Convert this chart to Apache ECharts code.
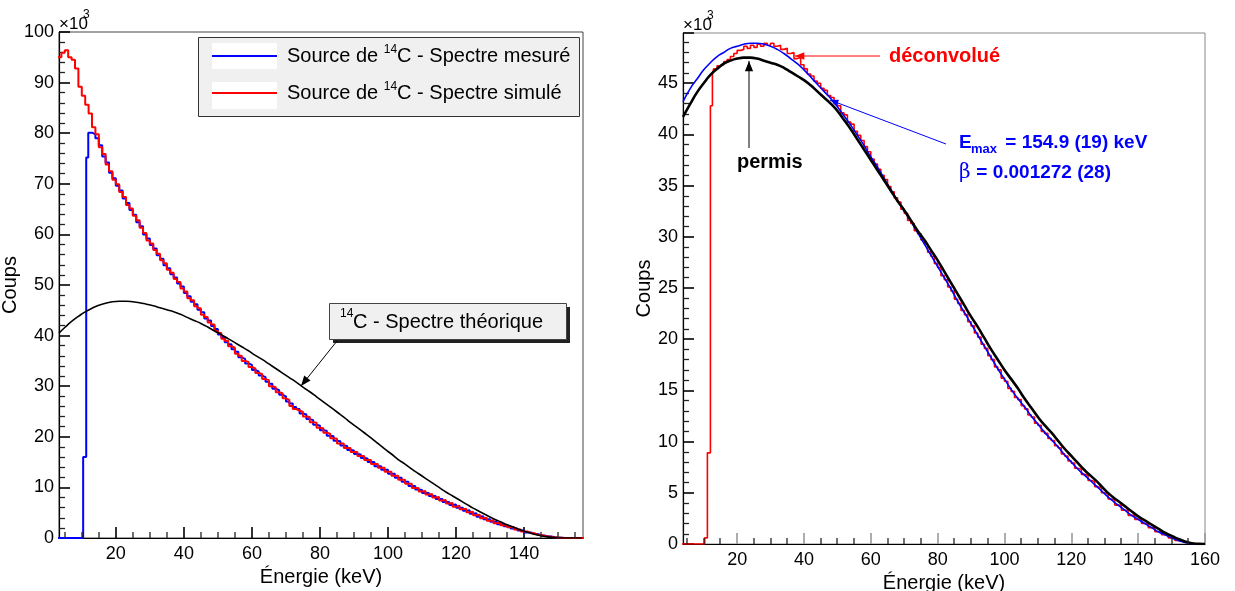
<!DOCTYPE html>
<html><head><meta charset="utf-8">
<script src="https://cdn.jsdelivr.net/npm/echarts@6/dist/echarts.min.js"></script>
<style>html,body{margin:0;padding:0;background:#fff}#c{width:1235px;height:591px}</style>
</head><body><div id="c"></div><script>
// ---------- DATA (counts in units of 10^3) ----------
// Left panel: 1-keV bins, first bin edge 3 keV
const leftSimStart = 3;
const leftSimCounts = [95.0,95.9,96.4,95.0,94.5,92.8,89.2,87.4,85.6,83.9,81.2,79.8,77.2,75.9,73.8,72.5,70.8,69.9,68.4,67.4,
65.8,65.1,63.7,62.8,61.3,60.3,58.8,58.2,56.9,56.2,54.9,54.3,53.0,52.4,51.2,50.6,49.3,48.7,47.4,47.0,
45.8,45.4,44.1,43.7,42.6,42.2,40.9,40.5,39.4,39.0,37.9,37.6,36.4,36.0,35.0,34.8,33.8,33.5,32.6,32.4,
31.4,31.2,30.0,29.8,28.8,28.6,27.6,27.3,26.1,25.5,25.2,24.9,24.0,23.9,22.9,22.8,21.8,21.7,20.8,20.6,
19.7,19.6,18.7,18.7,17.8,17.8,17.0,17.0,16.2,16.2,15.4,15.4,14.6,14.6,13.9,13.9,13.1,13.1,12.3,12.3,
11.5,11.5,10.7,10.7,9.9,9.9,9.2,9.3,8.6,8.7,8.0,8.1,7.4,7.5,6.8,6.9,6.2,6.4,5.7,5.8,
5.1,5.2,4.5,4.6,3.9,4.0,3.4,3.5,2.9,3.0,2.5,2.5,2.1,2.1,1.7,1.7,1.3,1.3,0.95,0.95,
0.65,0.6,0.4,0.35,0.2,0.15,0.05,0.03,0,0,0,0,0,0,0];
const leftMesLowEdges = [3, 10.4, 11.3, 11.9];
const leftMesLowCounts = [0, 16.0, 75.2, 80.1];
const leftMesStart = 13;
const leftMesCounts = [79.8,79.0,77.6,75.4,74.2,72.2,71.1,69.6,68.7,67.1,66.2,64.8,63.9,62.4,61.6,60.0,59.2,57.9,57.2,55.9,
55.2,53.9,53.3,52.1,51.5,50.3,49.7,48.4,47.8,46.7,46.2,45.1,44.6,43.4,43.0,41.9,41.3,40.2,39.7,38.7,
38.3,37.3,36.8,35.7,35.4,34.5,34.2,33.2,32.9,32.1,31.8,30.9,30.5,29.5,29.2,28.3,28.0,27.0,26.6,25.9,
25.5,24.6,24.4,23.5,23.3,22.4,22.2,21.3,21.2,20.2,20.1,19.2,19.1,18.3,18.2,17.4,17.3,16.6,16.5,15.8,
15.7,15.0,15.0,14.2,14.2,13.5,13.5,12.7,12.7,11.9,11.9,11.1,11.1,10.3,10.3,9.6,9.5,8.9,8.9,8.3,
8.3,7.7,7.7,7.1,7.1,6.5,6.6,6.0,6.0,5.4,5.5,4.8,4.9,4.2,4.3,3.7,3.7,3.2,3.2,2.7,
2.7,2.3,2.3,1.9,1.9,1.5,1.5,1.1,1.1,0.8,0.8,0.5,0.5,0.3,0.3,0.15,0.1,0.05,0,0,
0,0,0,0,0];
const leftTheoE = [3.3,5,7,9,11,13,15,17,19,21,23,25,27,29,31,33,35,37,39,41,43,45,47,49,51,53,55,57,59,61,63,65,67,69,71,73,75,77,79,81,
83,85,87,89,91,93,95,97,99,101,103,105,107,109,111,113,115,117,119,121,123,125,127,129,131,133,135,137,139,141,143,145,147,149,151,153,155,157];
const leftTheoV = [40.5,41.6,42.8,43.8,44.7,45.4,46.0,46.4,46.7,46.8,46.8,46.7,46.5,46.2,45.9,45.5,45.1,44.7,44.2,43.6,
43.0,42.4,41.7,40.9,40.2,39.4,38.6,37.8,37.0,36.1,35.3,34.4,33.5,32.6,31.7,30.8,29.8,28.9,27.9,26.9,
25.9,24.9,23.9,22.8,21.8,20.8,19.8,18.7,17.6,16.6,15.5,14.6,13.6,12.7,11.8,10.9,10.0,9.1,8.3,7.5,
6.7,5.9,5.2,4.5,3.8,3.2,2.6,2.1,1.6,1.15,0.75,0.45,0.22,0.08,0.01,0,0,0];
// Right panel
const rightDecLowEdges = [3, 10.3, 11.1, 12.0, 12.6];
const rightDecLowCounts = [0, 0.6, 8.9, 42.8, 46.0];
const rightDecStart = 13;
const rightDecCounts = [46.4,46.7,46.8,47.1,47.3,47.6,47.9,48.2,48.3,48.6,48.4,48.7,48.5,48.8,48.6,48.9,48.7,48.9,48.6,48.7,
48.3,48.4,47.9,48.0,47.4,47.5,46.8,
46.4,45.9,45.7,45.2,45.0,44.5,44.3,43.8,43.6,43.0,42.8,42.1,41.9,41.2,41.0,40.3,39.9,39.4,38.8,38.3,
37.6,37.1,36.6,36.0,35.6,34.9,34.4,33.8,33.4,32.7,32.3,31.6,31.3,30.6,30.3,29.7,29.3,28.5,28.1,27.4,
27.0,26.2,25.8,25.1,24.7,23.9,23.5,22.8,22.4,21.7,21.3,20.6,20.2,19.5,19.1,18.4,18.0,17.3,17.0,16.2,
15.9,15.2,14.9,14.3,14.1,13.5,13.2,12.6,12.4,11.8,11.6,11.0,10.8,10.3,10.1,9.6,9.4,8.8,8.6,8.1,
7.9,7.4,7.3,6.8,6.7,6.2,6.1,5.6,5.5,5.0,4.9,4.4,4.3,3.8,3.8,3.3,3.3,2.8,2.8,2.4,
2.4,2.0,2.0,1.6,1.6,1.2,1.2,0.9,0.85,0.6,0.55,0.35,0.32,0.18,0.15,0.05,0.04,0,0,0];
const rightCurveE = [3.8,6,8,10,12,14,16,18,20,22,24,26,28,30,32,34,36,38,40,42,44,46,48,50,52,54,56,58,60,62,64,66,68,70,72,74,76,78,80,82,
84,86,88,90,92,94,96,98,100,102,104,106,108,110,112,114,116,118,120,122,124,126,128,130,132,134,136,138,140,142,144,146,148,150,152,154,156,158,160];
const rightFitV = [43.2,44.5,45.4,46.3,47.0,47.6,48.0,48.4,48.6,48.8,48.9,48.9,48.8,48.6,48.3,47.9,47.4,46.9,46.3,45.6,
44.9,44.2,43.5,42.7,41.8,40.9,39.9,38.9,37.8,36.8,35.7,34.6,33.5,32.5,31.5,30.4,29.3,28.2,27.1,26.0,
24.9,23.7,22.6,21.5,20.4,19.3,18.2,17.1,16.1,15.1,14.2,13.4,12.5,11.7,10.9,10.2,9.5,8.7,8.0,7.3,
6.7,6.1,5.5,4.9,4.3,3.8,3.3,2.8,2.4,2.0,1.6,1.2,0.9,0.6,0.35,0.15,0.03,0,0];
const rightPermV = [41.7,43.0,44.1,45.0,45.8,46.4,46.9,47.2,47.4,47.5,47.5,47.4,47.2,47.0,46.8,46.5,46.1,45.7,45.3,44.8,
44.2,43.6,43.0,42.3,41.4,40.5,39.5,38.5,37.5,36.5,35.5,34.5,33.5,32.6,31.6,30.6,29.7,28.7,27.7,26.6,
25.5,24.4,23.3,22.2,21.2,20.1,19.0,18.0,17.0,16.1,15.2,14.2,13.3,12.4,11.6,10.9,10.1,9.3,8.6,7.9,
7.2,6.6,6.0,5.3,4.7,4.2,3.7,3.2,2.7,2.3,1.9,1.5,1.1,0.8,0.5,0.25,0.08,0.01,0];
// Axis tick values
const leftXLabels = [20,40,60,80,100,120,140];
const rightXLabels = [20,40,60,80,100,120,140,160];
const xMinorStep = 5;
const leftYMajor = 10;
const rightYMajor = 5;
const nameMes = 'Source de 14C - Spectre mesuré';
const nameSim = 'Source de 14C - Spectre simulé';

// ---------- BUILD ----------
const FONT = '"Liberation Sans", Arial, Helvetica, sans-serif';
const L = { xmin: 3.3, xmax: 157.3, ymax: 100 };
const R = { xmin: 3.8, xmax: 160, ymax: 49.9 };
const TICKW = 1.6;
function hist(lowEdges, lowCounts, start, counts) {
  const d = [];
  lowEdges.forEach((e, i) => d.push([e, lowCounts[i]]));
  counts.forEach((v, i) => d.push([start + i, v]));
  d.push([start + counts.length, counts[counts.length - 1]]);
  return d;
}
function pairs(xs, ys) { return xs.map((x, i) => [x, ys[i]]); }

function mainX(g, min, max, labels, majorColor) {
  return {
    type: 'value', gridIndex: g, min: min, max: max, position: 'bottom',
    name: 'Énergie (keV)', nameLocation: 'middle', nameGap: 29,
    nameTextStyle: { fontFamily: FONT, fontSize: 20, color: '#000' },
    axisLine: { show: true, onZero: false, lineStyle: { color: '#000', width: 1.2 } },
    axisTick: { show: true, inside: true, length: 11, customValues: labels, lineStyle: { color: majorColor, width: TICKW } },
    axisLabel: { show: true, customValues: labels, margin: 7, fontFamily: FONT, fontSize: 18, color: '#000' },
    splitLine: { show: false }
  };
}
function yAx(g, max, interval, gap) {
  return {
    type: 'value', gridIndex: g, min: 0, max: max, interval: interval,
    name: 'Coups', nameLocation: 'middle', nameGap: gap,
    nameTextStyle: { fontFamily: FONT, fontSize: 20, color: '#000' },
    axisLine: { show: true, onZero: false, lineStyle: { color: '#000', width: 1.2 } },
    axisTick: { show: true, inside: true, length: 11, lineStyle: { color: '#000', width: TICKW } },
    minorTick: { show: true, splitNumber: 5, length: 6, lineStyle: { color: '#222', width: 1.3 } },
    axisLabel: { margin: 5, fontFamily: FONT, fontSize: 18, color: '#000', showMaxLabel: max === 100 },
    splitLine: { show: false }
  };
}

// minor tick marks on the energy axes (every 5 keV, not on labelled values)
function xMinorData(min, max, majors) {
  const d = [];
  for (let v = xMinorStep; v <= max + 1e-9; v += xMinorStep) if (v > min && majors.indexOf(v) < 0) d.push([v, 0]);
  return d;
}
function xMinorSeries(g, data) {
  return {
    type: 'custom', xAxisIndex: g, yAxisIndex: g, silent: true, z: 10, clip: false, data: data,
    renderItem: function (params, api) {
      const p = api.coord([api.value(0), 0]);
      const x = Math.round(p[0]), y = Math.round(p[1]);
      return { type: 'line', shape: { x1: x, y1: y, x2: x, y2: y - 6 }, style: { stroke: '#222', lineWidth: 1.3 } };
    }
  };
}

function arrow(x1, y1, x2, y2, color, head, w) {
  const ang = Math.atan2(y2 - y1, x2 - x1), a = 0.38;
  const p1 = [x2 - head * Math.cos(ang - a), y2 - head * Math.sin(ang - a)];
  const p2 = [x2 - head * Math.cos(ang + a), y2 - head * Math.sin(ang + a)];
  return [
    { type: 'line', z: 100, shape: { x1: x1, y1: y1, x2: x2, y2: y2 }, style: { stroke: color, lineWidth: w } },
    { type: 'polygon', z: 100, shape: { points: [[x2, y2], p1, p2] }, style: { fill: color } }
  ];
}
function txt(x, y, s, size, color, weight, va, family) {
  return { type: 'text', z: 100, x: x, y: y,
    style: { text: s, fontSize: size, fill: color, fontWeight: weight || 'normal', fontFamily: family || FONT,
      verticalAlign: va || 'middle', align: 'left' } };
}

const graphics = [].concat(
  [{ type: 'rect', z: 1, shape: { x: 198.5, y: 37.5, width: 381, height: 79 }, style: { fill: '#f0f0f0', stroke: '#333', lineWidth: 1 } },
   { type: 'rect', z: 1, shape: { x: 212, y: 43, width: 65, height: 26 }, style: { fill: '#fff' } },
   { type: 'rect', z: 1, shape: { x: 212, y: 82, width: 65, height: 27 }, style: { fill: '#fff' } }],
  [txt(59, 24, '×10', 17, '#000'), txt(83, 15, '3', 12, '#000'),
   txt(683, 25, '×10', 17, '#000'), txt(707, 16, '3', 12, '#000')],
  [{ type: 'rect', z: 99, shape: { x: 333, y: 307, width: 237, height: 36 }, style: { fill: '#222' } },
   { type: 'rect', z: 99, shape: { x: 329.5, y: 303.5, width: 237, height: 36 }, style: { fill: '#f0f0f0', stroke: '#444', lineWidth: 1 } },
   txt(340, 314, '14', 12, '#000'), txt(353, 322, 'C - Spectre théorique', 20, '#000')],
  arrow(337, 341, 301, 386, '#000', 11, 1),
  [txt(889, 56, 'déconvolué', 20, '#ff0000', 'bold')],
  arrow(880, 56, 795, 56, '#ff0000', 10, 1),
  [txt(737, 162, 'permis', 20, '#000', 'bold')],
  arrow(749, 148, 749, 61, '#000', 11, 1),
  [txt(959, 143, 'E', 19, '#0000ff', 'bold'), txt(971, 149, 'max', 13, '#0000ff', 'bold'),
   txt(1000, 143, ' = 154.9 (19) keV', 19, '#0000ff', 'bold'),
   txt(959, 173, 'β', 20, '#0000ff', 'normal', 'middle', '"DejaVu Serif", serif'), txt(971, 173, ' = 0.001272 (28)', 19, '#0000ff', 'bold')],
  arrow(946, 144, 830, 100, '#0000ff', 9, 1)
);

const option = {
  backgroundColor: '#ffffff',
  animation: false,
  grid: [
    { left: 59, top: 32, width: 524, height: 506, show: true, borderColor: '#444', borderWidth: 1, outerBoundsMode: 'none' },
    { left: 683, top: 33, width: 522, height: 511, show: true, borderColor: '#888', borderWidth: 1, outerBoundsMode: 'none' }
  ],
  xAxis: [ mainX(0, L.xmin, L.xmax, leftXLabels, '#000'), mainX(1, R.xmin, R.xmax, rightXLabels, '#999') ],
  yAxis: [ yAx(0, L.ymax, leftYMajor, 27), yAx(1, R.ymax, rightYMajor, 29) ],
  legend: {
    data: [nameMes, nameSim], orient: 'vertical', left: 198, top: 37, icon: 'rect',
    padding: [7, 0, 0, 14], itemWidth: 65, itemHeight: 2, itemGap: 15, selectedMode: false,
    backgroundColor: 'transparent', z: 5,
    formatter: function (n) { const p = n.split('14'); return '{t|' + p[0] + '}{s|14}{t|' + p[1] + '}'; },
    textStyle: { padding: [0, 0, 0, 5], rich: {
      t: { fontFamily: FONT, fontSize: 20, color: '#000', lineHeight: 24 },
      s: { fontFamily: FONT, fontSize: 12, color: '#000', lineHeight: 12, verticalAlign: 'top' } } }
  },
  graphic: graphics,
  series: [
    { name: nameMes, type: 'line', xAxisIndex: 0, yAxisIndex: 0, step: 'end', symbol: 'none', clip: true,
      lineStyle: { color: '#0000ff', width: 2 }, itemStyle: { color: '#0000ff' },
      data: hist(leftMesLowEdges, leftMesLowCounts, leftMesStart, leftMesCounts) },
    { name: nameSim, type: 'line', xAxisIndex: 0, yAxisIndex: 0, step: 'end', symbol: 'none', clip: true,
      lineStyle: { color: '#ff0000', width: 2 }, itemStyle: { color: '#ff0000' },
      data: hist([], [], leftSimStart, leftSimCounts) },
    { name: 'théorique', type: 'line', xAxisIndex: 0, yAxisIndex: 0, smooth: true, symbol: 'none', clip: true,
      lineStyle: { color: '#000', width: 1.6 }, data: pairs(leftTheoE, leftTheoV) },
    { name: 'déconvolué', type: 'line', xAxisIndex: 1, yAxisIndex: 1, step: 'end', symbol: 'none', clip: true,
      lineStyle: { color: '#ff0000', width: 1.6 }, data: hist(rightDecLowEdges, rightDecLowCounts, rightDecStart, rightDecCounts) },
    { name: 'ajustement', type: 'line', xAxisIndex: 1, yAxisIndex: 1, smooth: true, symbol: 'none', clip: true,
      lineStyle: { color: '#0000ff', width: 1.6 }, data: pairs(rightCurveE, rightFitV) },
    { name: 'permis', type: 'line', xAxisIndex: 1, yAxisIndex: 1, smooth: true, symbol: 'none', clip: true,
      lineStyle: { color: '#000', width: 2.6 }, data: pairs(rightCurveE, rightPermV) },
    xMinorSeries(0, xMinorData(L.xmin, L.xmax, leftXLabels)),
    xMinorSeries(1, xMinorData(R.xmin, R.xmax, rightXLabels))
  ]
};
const chart = echarts.init(document.getElementById('c'), null, { renderer: 'canvas' });
chart.setOption(option);
</script></body></html>
